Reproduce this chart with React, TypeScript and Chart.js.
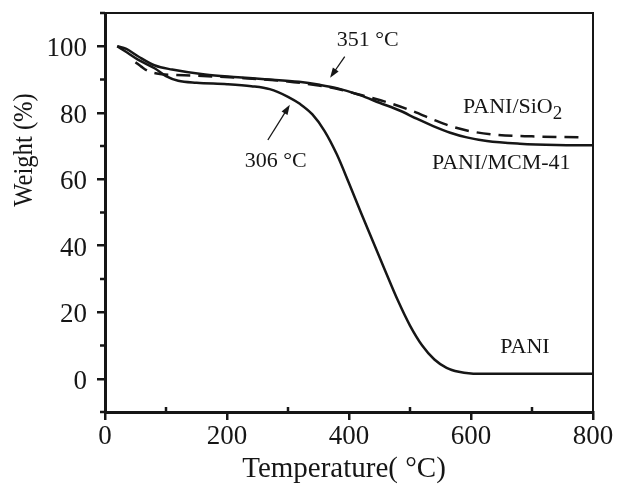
import React, { useEffect, useRef } from 'react';
import { Chart, registerables } from 'chart.js';

Chart.register(...registerables);

// ---- data ----
const paniT = [20, 33, 54, 82, 100, 120, 150, 200, 240, 270, 300, 320, 340, 360, 380, 400, 420, 440, 460, 480, 500, 520, 540, 560, 580, 600, 620, 700, 800];
const paniW = [100, 98.5, 96, 93.3, 91, 89.6, 89, 88.6, 88, 87.1, 84.8, 82.6, 79.5, 74.5, 67.5, 58.8, 49.8, 41, 32.2, 23.6, 16, 10, 5.8, 3.3, 2.1, 1.6, 1.5, 1.5, 1.5];

const mcmT = [20, 35, 54, 82, 110, 164, 218, 262, 318, 352, 380, 418, 450, 484, 511, 538, 566, 593, 626, 680, 740, 800];
const mcmW = [100, 99.2, 97, 94.2, 93, 91.5, 90.7, 90.1, 89.3, 88.4, 87.4, 85.3, 83, 80.6, 78.2, 76, 74, 72.6, 71.5, 70.7, 70.3, 70.2];

const sioT = [50, 60, 70, 85, 110, 143, 218, 300, 350, 380, 418, 467, 500, 540, 566, 600, 640, 700, 778];
const sioW = [95.2, 93.8, 92.6, 91.8, 91.4, 91.2, 90.5, 89.4, 88.2, 87.2, 85.4, 82.9, 80.8, 77.8, 76, 74.4, 73.4, 72.9, 72.6];

const xMajorTicks = [0, 200, 400, 600, 800];
const xMinorTicks = [100, 300, 500, 700];
const yMajorTicks = [0, 20, 40, 60, 80, 100];
const yMinorTicks = [-10, 10, 30, 50, 70, 90, 110];

const xTitle = 'Temperature( °C)';
const yTitle = 'Weight (%)';

// annotation texts (anchored in data coordinates)
const labelTexts = ['351 °C', '306 °C', 'PANI/SiO', 'PANI/MCM-41', 'PANI'];
const labelT = [380, 229, 587, 536, 648];
const labelW = [100, 63.6, 80, 63.2, 7.7];
const subscriptText = '2';

// arrows: tail -> tip
const arrowTailT = [393, 267];
const arrowTailW = [96.9, 71.8];
const arrowTipT = [369, 303];
const arrowTipW = [90.5, 82.4];

const SERIF = "'Liberation Serif', 'Times New Roman', serif";
const INK = '#161616';

const decor = {
  id: 'decor',
  afterDraw(chart: any) {
    const { ctx, chartArea, scales } = chart;
    const { left, right, top, bottom } = chartArea;
    const x = scales.x;
    const y = scales.y;
    ctx.save();
    ctx.strokeStyle = INK;
    ctx.fillStyle = INK;
    // frame top & right
    ctx.lineWidth = 2;
    ctx.beginPath();
    ctx.moveTo(left, top);
    ctx.lineTo(right, top);
    ctx.lineTo(right, bottom);
    ctx.stroke();
    // minor ticks
    ctx.lineWidth = 2.5;
    xMinorTicks.forEach((v) => {
      const px = x.getPixelForValue(v);
      ctx.beginPath();
      ctx.moveTo(px, bottom);
      ctx.lineTo(px, bottom - 5);
      ctx.stroke();
    });
    yMinorTicks.forEach((v) => {
      const py = y.getPixelForValue(v);
      ctx.beginPath();
      ctx.moveTo(left, py);
      ctx.lineTo(left - 5, py);
      ctx.stroke();
    });
    // annotation labels
    ctx.font = `22px ${SERIF}`;
    ctx.textAlign = 'left';
    ctx.textBaseline = 'alphabetic';
    labelTexts.forEach((t, i) => {
      const px = x.getPixelForValue(labelT[i]);
      const py = y.getPixelForValue(labelW[i]);
      ctx.fillText(t, px, py);
      if (t === 'PANI/SiO') {
        const w = ctx.measureText(t).width;
        ctx.font = `19px ${SERIF}`;
        ctx.fillText(subscriptText, px + w, py + 6);
        ctx.font = `22px ${SERIF}`;
      }
    });
    // arrows
    ctx.lineWidth = 1.3;
    arrowTailT.forEach((_, i) => {
      const x0 = x.getPixelForValue(arrowTailT[i]);
      const y0 = y.getPixelForValue(arrowTailW[i]);
      const x1 = x.getPixelForValue(arrowTipT[i]);
      const y1 = y.getPixelForValue(arrowTipW[i]);
      const ang = Math.atan2(y1 - y0, x1 - x0);
      const hl = 10;
      const hw = 3.5;
      ctx.beginPath();
      ctx.moveTo(x0, y0);
      ctx.lineTo(x1 - Math.cos(ang) * hl * 0.8, y1 - Math.sin(ang) * hl * 0.8);
      ctx.stroke();
      ctx.beginPath();
      ctx.moveTo(x1, y1);
      ctx.lineTo(x1 - Math.cos(ang) * hl - Math.sin(ang) * hw, y1 - Math.sin(ang) * hl + Math.cos(ang) * hw);
      ctx.lineTo(x1 - Math.cos(ang) * hl + Math.sin(ang) * hw, y1 - Math.sin(ang) * hl - Math.cos(ang) * hw);
      ctx.closePath();
      ctx.fill();
    });
    // axis titles
    ctx.font = `29px ${SERIF}`;
    ctx.textAlign = 'center';
    ctx.textBaseline = 'alphabetic';
    ctx.fillText(xTitle, 344, 477);
    ctx.save();
    ctx.translate(25, 150);
    ctx.rotate(-Math.PI / 2);
    ctx.scale(0.88, 1);
    ctx.font = `28px ${SERIF}`;
    ctx.textBaseline = 'middle';
    ctx.fillText(yTitle, 0, 0);
    ctx.restore();
    ctx.restore();
  },
};

export default function App() {
  const ref = useRef<HTMLCanvasElement>(null);
  useEffect(() => {
    if (!ref.current) return;
    const mk = (ts: number[], ws: number[]) => ts.map((t, i) => ({ x: t, y: ws[i] }));
    const chart = new Chart(ref.current, {
      type: 'line',
      data: {
        datasets: [
          {
            label: 'PANI',
            data: mk(paniT, paniW),
            borderColor: INK,
            borderWidth: 2.5,
            pointRadius: 0,
            fill: false,
            cubicInterpolationMode: 'monotone',
          },
          {
            label: 'PANI/MCM-41',
            data: mk(mcmT, mcmW),
            borderColor: INK,
            borderWidth: 2.5,
            pointRadius: 0,
            fill: false,
            cubicInterpolationMode: 'monotone',
          },
          {
            label: 'PANI/SiO2',
            data: mk(sioT, sioW),
            borderColor: INK,
            borderWidth: 2.5,
            borderDash: [14, 8],
            pointRadius: 0,
            fill: false,
            cubicInterpolationMode: 'monotone',
          },
        ],
      },
      options: {
        animation: false,
        responsive: false,
        devicePixelRatio: 1,
        layout: { padding: { top: 13, right: 25, left: 0, bottom: 0 } },
        plugins: { legend: { display: false }, tooltip: { enabled: false } },
        scales: {
          x: {
            type: 'linear',
            min: 0,
            max: 800,
            afterBuildTicks: (s: any) => {
              s.ticks = xMajorTicks.map((v) => ({ value: v }));
            },
            afterFit: (s: any) => {
              s.height = 81;
              s.paddingLeft = 0;
              s.paddingRight = 0;
            },
            grid: {
              drawOnChartArea: false,
              drawTicks: true,
              tickLength: 8,
              lineWidth: 2.5,
              color: INK,
            },
            border: { display: true, width: 3, color: INK },
            ticks: {
              padding: 1,
              color: INK,
              font: { family: SERIF, size: 27 },
              maxRotation: 0,
            },
          },
          y: {
            type: 'linear',
            min: -10,
            max: 110,
            afterBuildTicks: (s: any) => {
              s.ticks = yMajorTicks.map((v) => ({ value: v }));
            },
            afterFit: (s: any) => {
              s.width = 105;
              s.paddingTop = 0;
              s.paddingBottom = 0;
            },
            grid: {
              drawOnChartArea: false,
              drawTicks: true,
              tickLength: 8,
              lineWidth: 2.5,
              color: INK,
            },
            border: { display: true, width: 3, color: INK },
            ticks: {
              padding: 10,
              labelOffset: 3,
              color: INK,
              font: { family: SERIF, size: 27 },
            },
          },
        },
      },
      plugins: [decor],
    } as any);
    return () => chart.destroy();
  }, []);
  return (
    <div style={{ position: 'fixed', left: 0, top: 0, width: 618, height: 493, background: '#fff' }}>
      <canvas ref={ref} width={618} height={493} style={{ display: 'block' }} />
    </div>
  );
}
